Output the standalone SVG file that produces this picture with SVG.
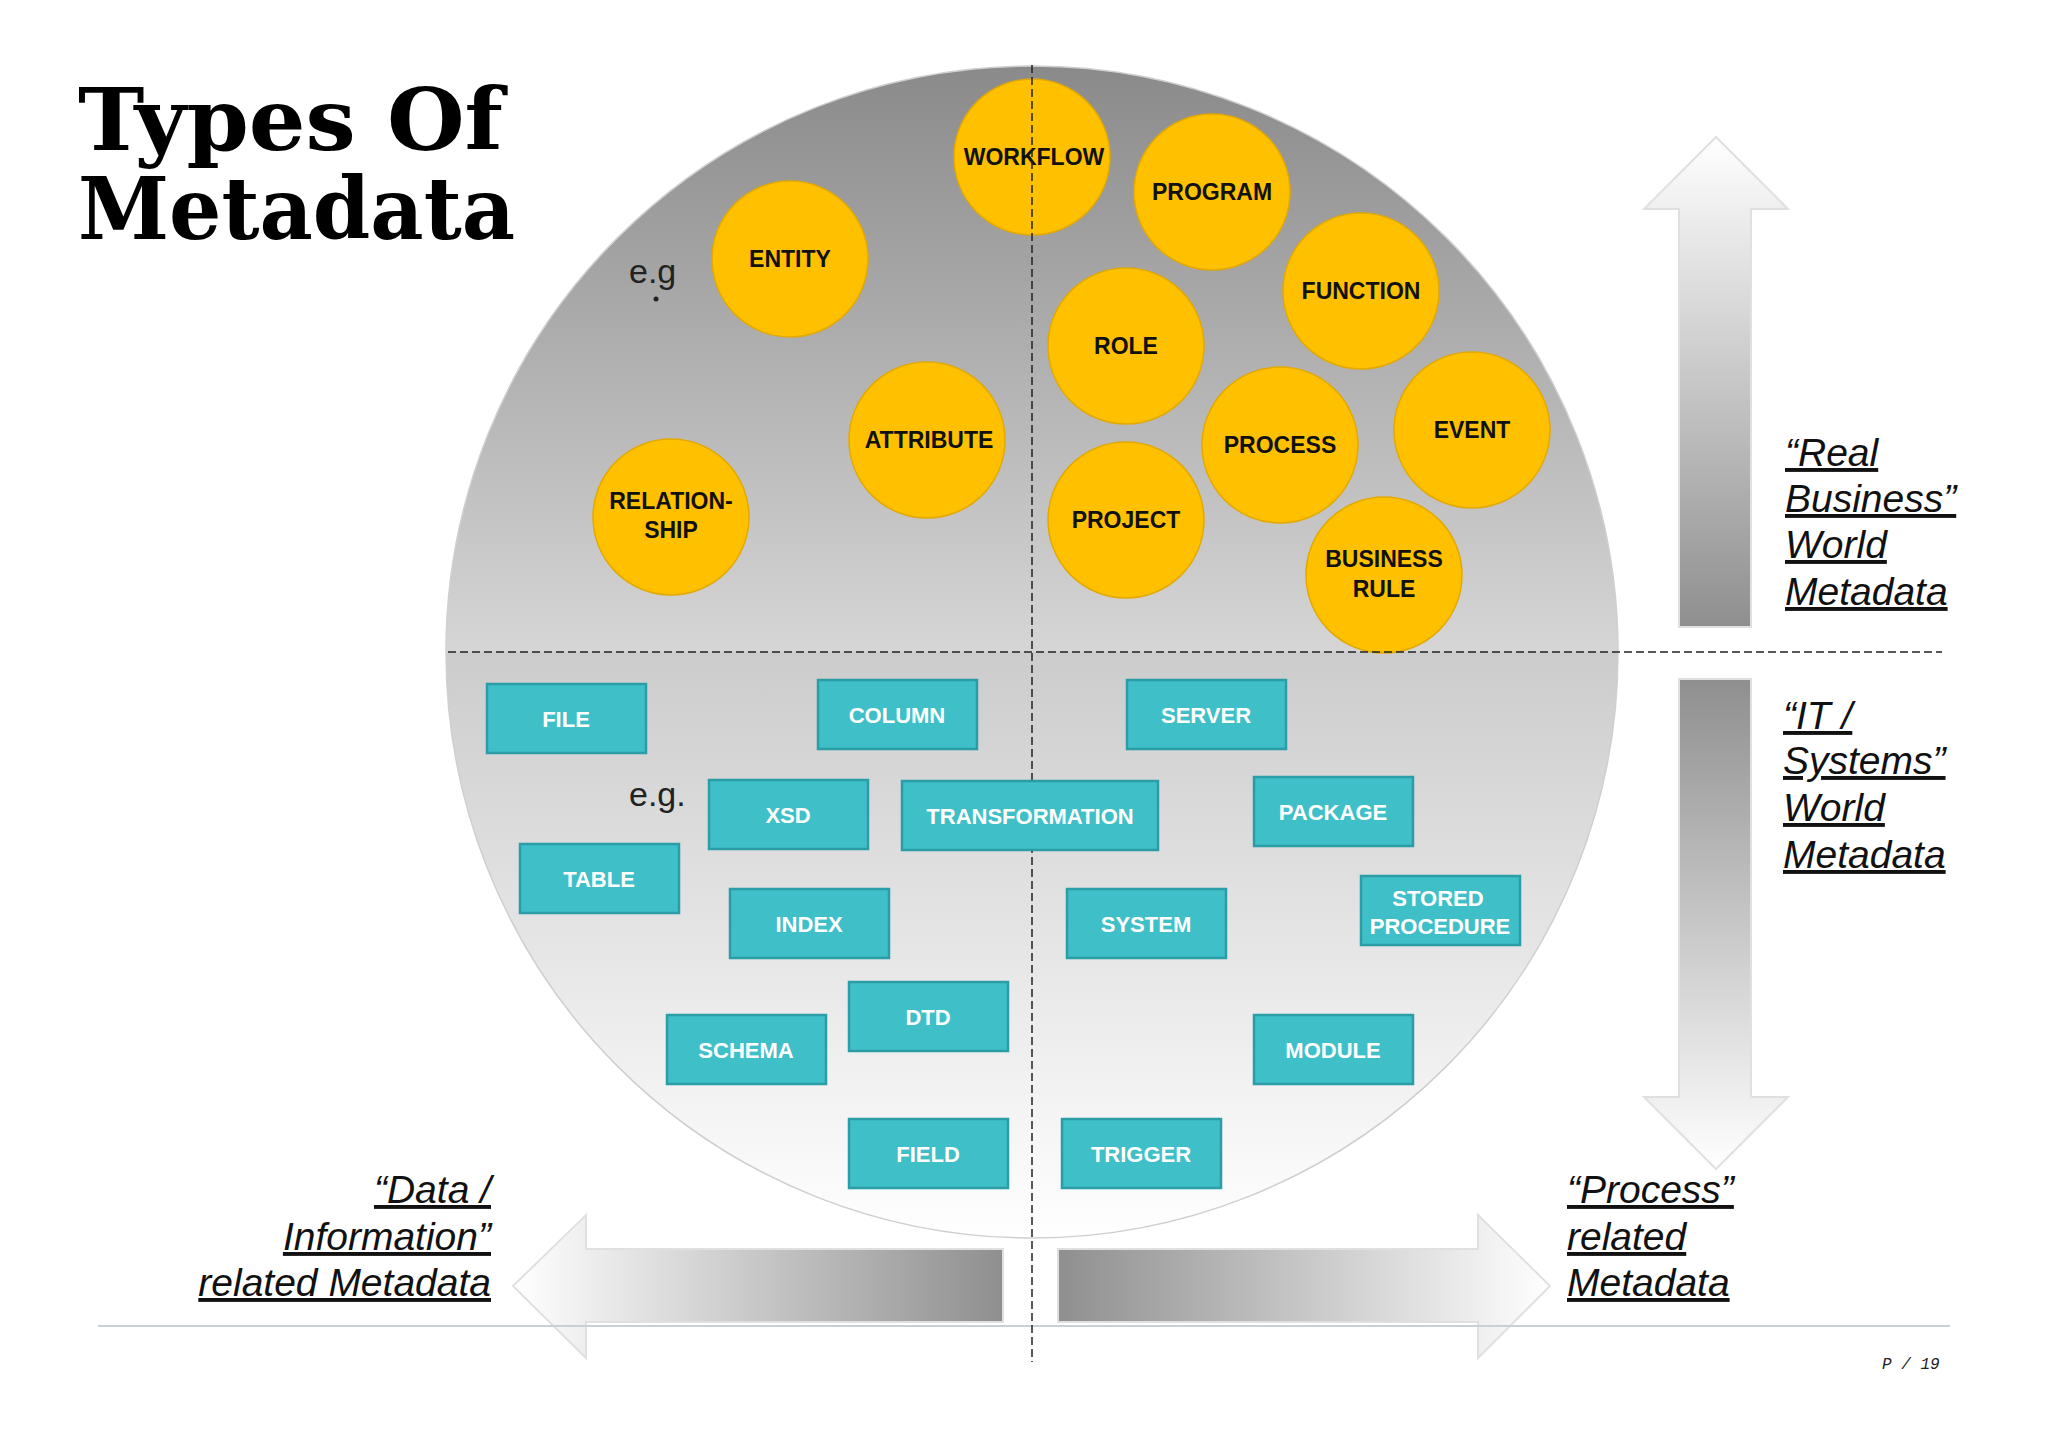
<svg xmlns="http://www.w3.org/2000/svg" width="2048" height="1448" viewBox="0 0 2048 1448">
<defs>
<linearGradient id="disc" x1="0" y1="0" x2="0" y2="1">
<stop offset="0" stop-color="#8a8a8a"/><stop offset="0.5" stop-color="#d6d6d6"/><stop offset="0.5" stop-color="#cccccc"/><stop offset="1" stop-color="#ffffff"/>
</linearGradient>
<linearGradient id="up" x1="0" y1="0" x2="0" y2="1"><stop offset="0" stop-color="#ffffff"/><stop offset="1" stop-color="#8f8f8f"/></linearGradient>
<linearGradient id="down" x1="0" y1="0" x2="0" y2="1"><stop offset="0" stop-color="#8f8f8f"/><stop offset="1" stop-color="#ffffff"/></linearGradient>
<linearGradient id="lft" x1="0" y1="0" x2="1" y2="0"><stop offset="0" stop-color="#ffffff"/><stop offset="1" stop-color="#8f8f8f"/></linearGradient>
<linearGradient id="rgt" x1="0" y1="0" x2="1" y2="0"><stop offset="0" stop-color="#8f8f8f"/><stop offset="1" stop-color="#ffffff"/></linearGradient>
</defs>
<style>
.c{fill:#FFC000;stroke:#e3a900;stroke-width:1.5}
.ct{font-family:"Liberation Sans",Arial,sans-serif;font-weight:bold;font-size:23px;fill:#111;text-anchor:middle}
.r{fill:#3FBFC8;stroke:#2a9da6;stroke-width:2.5}
.rt{font-family:"Liberation Sans",Arial,sans-serif;font-weight:bold;font-size:22px;fill:#fff;text-anchor:middle}
.lab{font-family:"Liberation Sans",Arial,sans-serif;font-style:italic;font-size:39px;fill:#111;text-decoration:underline}
.eg{font-family:"Liberation Sans",Arial,sans-serif;font-size:34px;fill:#222}
.arr{stroke:#e0e0e0;stroke-width:2}
</style>
<rect width="2048" height="1448" fill="#fff"/>
<text x="78" y="150" font-family="DejaVu Serif,serif" font-weight="bold" font-size="86" textLength="425" lengthAdjust="spacingAndGlyphs">Types Of</text>
<text x="78" y="239" font-family="DejaVu Serif,serif" font-weight="bold" font-size="86" textLength="437" lengthAdjust="spacingAndGlyphs">Metadata</text>
<circle cx="1032" cy="652" r="586" fill="url(#disc)" stroke="#cfcfcf" stroke-width="1.5"/>
<g id="arrows">
<path class="arr" fill="url(#up)" d="M1679,627 L1679,209 L1644,209 L1716,137 L1788,209 L1751,209 L1751,627 Z"/>
<path class="arr" fill="url(#down)" d="M1679,679 L1751,679 L1751,1097 L1788,1097 L1716,1169 L1644,1097 L1679,1097 Z"/>
<path class="arr" fill="url(#lft)" d="M1003,1249 L1003,1322 L586,1322 L586,1358 L513,1286 L586,1215 L586,1249 Z"/>
<path class="arr" fill="url(#rgt)" d="M1058,1249 L1478,1249 L1478,1215 L1550,1286 L1478,1358 L1478,1322 L1058,1322 Z"/>
<line x1="98" y1="1326" x2="1950" y2="1326" stroke="#c8d0d4" stroke-width="2"/>
</g>
<g id="circles">
<g id="workflow"><circle class="c" cx="1032" cy="157" r="78"/><text class="ct" x="1034" y="165">WORKFLOW</text></g>
<g id="program"><circle class="c" cx="1212" cy="192" r="78"/><text class="ct" x="1212" y="200">PROGRAM</text></g>
<g id="entity"><circle class="c" cx="790" cy="259" r="78"/><text class="ct" x="790" y="267">ENTITY</text></g>
<g id="function"><circle class="c" cx="1361" cy="291" r="78"/><text class="ct" x="1361" y="299">FUNCTION</text></g>
<g id="role"><circle class="c" cx="1126" cy="346" r="78"/><text class="ct" x="1126" y="354">ROLE</text></g>
<g id="attribute"><circle class="c" cx="927" cy="440" r="78"/><text class="ct" x="929" y="448">ATTRIBUTE</text></g>
<g id="process"><circle class="c" cx="1280" cy="445" r="78"/><text class="ct" x="1280" y="453">PROCESS</text></g>
<g id="event"><circle class="c" cx="1472" cy="430" r="78"/><text class="ct" x="1472" y="438">EVENT</text></g>
<g id="relationship"><circle class="c" cx="671" cy="517" r="78"/><text class="ct" x="671" y="509">RELATION-</text><text class="ct" x="671" y="538">SHIP</text></g>
<g id="project"><circle class="c" cx="1126" cy="520" r="78"/><text class="ct" x="1126" y="528">PROJECT</text></g>
<g id="businessrule"><circle class="c" cx="1384" cy="575" r="78"/><text class="ct" x="1384" y="567">BUSINESS</text><text class="ct" x="1384" y="597">RULE</text></g>
</g>
<g id="connectors" stroke="#222" stroke-width="1.5" stroke-dasharray="8,4" fill="none">
<line x1="448" y1="652" x2="1942" y2="652"/>
<line x1="1032" y1="65" x2="1032" y2="1362"/>
</g>
<g id="rects">
<g id="file"><rect class="r" x="487" y="684" width="159" height="69"/><text class="rt" x="566" y="727">FILE</text></g>
<g id="column"><rect class="r" x="818" y="680" width="159" height="69"/><text class="rt" x="897" y="723">COLUMN</text></g>
<g id="server"><rect class="r" x="1127" y="680" width="159" height="69"/><text class="rt" x="1206" y="723">SERVER</text></g>
<g id="xsd"><rect class="r" x="709" y="780" width="159" height="69"/><text class="rt" x="788" y="823">XSD</text></g>
<g id="transformation"><rect class="r" x="902" y="781" width="256" height="69"/><text class="rt" x="1030" y="824">TRANSFORMATION</text></g>
<g id="package"><rect class="r" x="1254" y="777" width="159" height="69"/><text class="rt" x="1333" y="820">PACKAGE</text></g>
<g id="table"><rect class="r" x="520" y="844" width="159" height="69"/><text class="rt" x="599" y="887">TABLE</text></g>
<g id="index"><rect class="r" x="730" y="889" width="159" height="69"/><text class="rt" x="809" y="932">INDEX</text></g>
<g id="system"><rect class="r" x="1067" y="889" width="159" height="69"/><text class="rt" x="1146" y="932">SYSTEM</text></g>
<g id="stored"><rect class="r" x="1361" y="876" width="159" height="69"/><text class="rt" x="1438" y="906">STORED</text><text class="rt" x="1440" y="934">PROCEDURE</text></g>
<g id="dtd"><rect class="r" x="849" y="982" width="159" height="69"/><text class="rt" x="928" y="1025">DTD</text></g>
<g id="schema"><rect class="r" x="667" y="1015" width="159" height="69"/><text class="rt" x="746" y="1058">SCHEMA</text></g>
<g id="module"><rect class="r" x="1254" y="1015" width="159" height="69"/><text class="rt" x="1333" y="1058">MODULE</text></g>
<g id="field"><rect class="r" x="849" y="1119" width="159" height="69"/><text class="rt" x="928" y="1162">FIELD</text></g>
<g id="trigger"><rect class="r" x="1062" y="1119" width="159" height="69"/><text class="rt" x="1141" y="1162">TRIGGER</text></g>
</g>
<text class="eg" x="629" y="283">e.g</text>
<circle cx="656" cy="299" r="2.5" fill="#222"/>
<text class="eg" x="629" y="806">e.g.</text>
<g id="labels">
<text class="lab" x="1785" y="466">“Real</text>
<text class="lab" x="1785" y="512">Business”</text>
<text class="lab" x="1785" y="558">World</text>
<text class="lab" x="1785" y="605">Metadata</text>
<text class="lab" x="1783" y="729">“IT /</text>
<text class="lab" x="1783" y="774">Systems”</text>
<text class="lab" x="1783" y="821">World</text>
<text class="lab" x="1783" y="868">Metadata</text>
<text class="lab" x="491" y="1203" text-anchor="end">“Data /</text>
<text class="lab" x="491" y="1250" text-anchor="end">Information”</text>
<text class="lab" x="491" y="1296" text-anchor="end">related Metadata</text>
<text class="lab" x="1567" y="1203">“Process”</text>
<text class="lab" x="1567" y="1250">related</text>
<text class="lab" x="1567" y="1296">Metadata</text>
</g>
<text x="1882" y="1369" font-family="Liberation Mono,monospace" font-style="italic" font-size="16" fill="#222">P / 19</text>
</svg>
